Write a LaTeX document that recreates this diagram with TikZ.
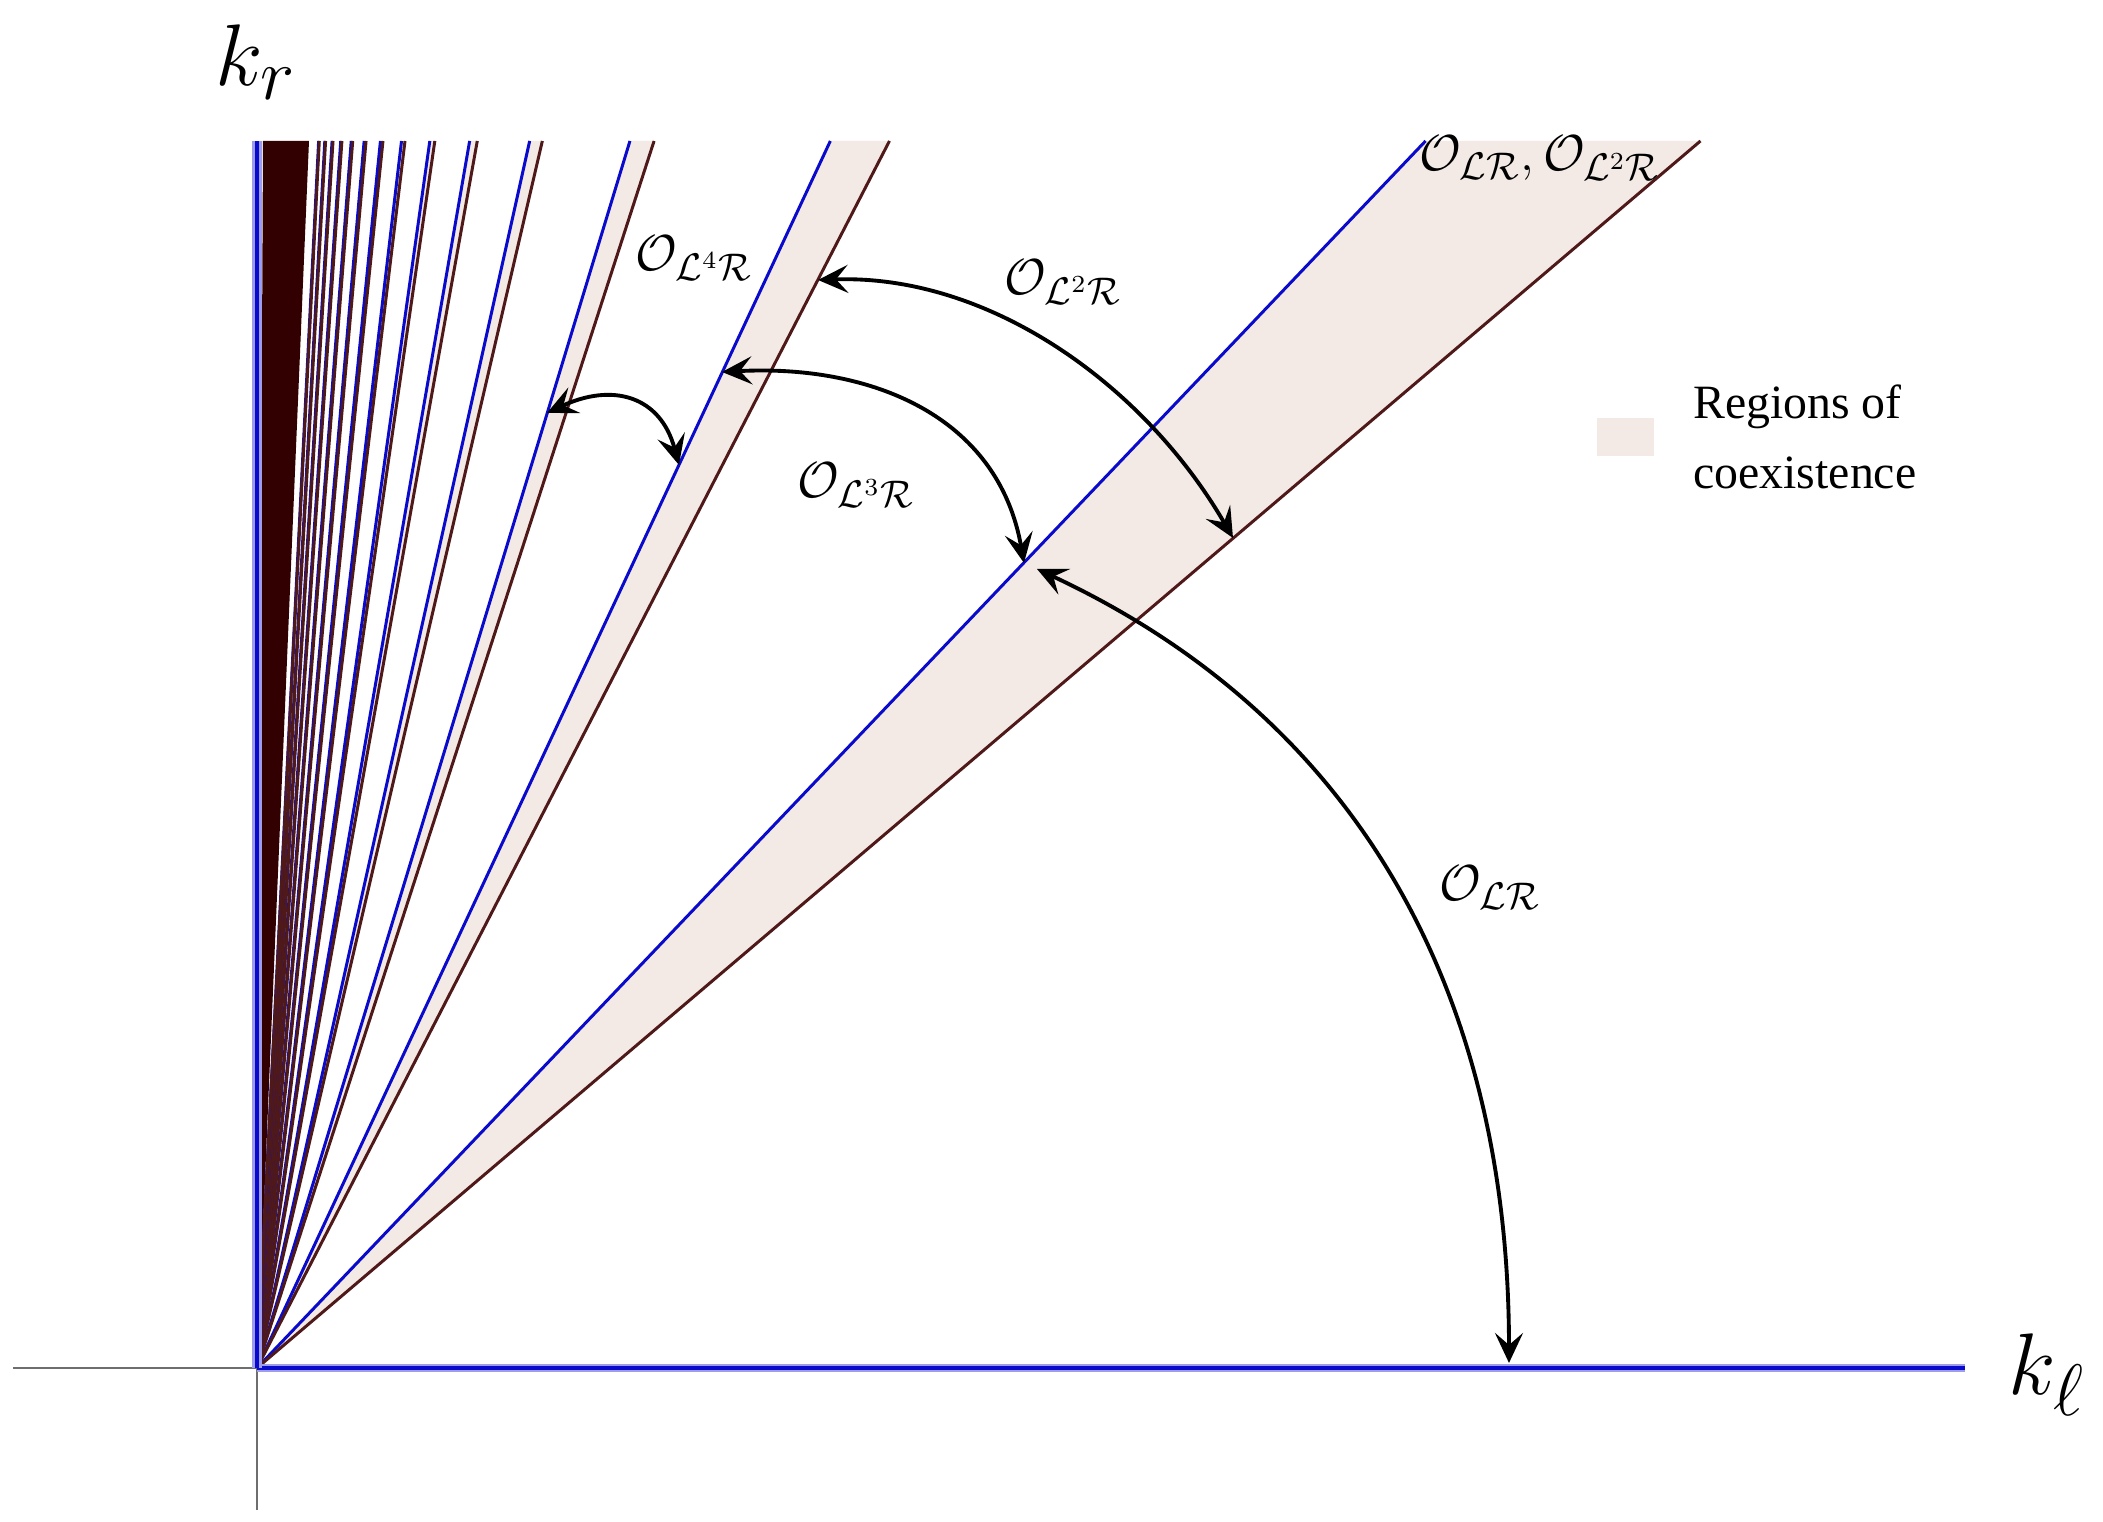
\documentclass[tikz,border=0pt]{standalone}
\usepackage{amsmath}
\usepackage{amssymb}
\usepackage{fontspec}
\setmainfont{Liberation Serif}
\usetikzlibrary{arrows.meta,positioning}
\definecolor{lineblue}{RGB}{10,10,205}
\definecolor{linebrown}{RGB}{80,25,25}
\definecolor{darkband}{RGB}{50,0,0}
\definecolor{coexist}{RGB}{243,234,229}
\definecolor{axisgray}{RGB}{110,110,110}

\begin{document}
\begin{tikzpicture}[>={Stealth[length=3mm,width=2.8mm,inset=1.2mm]},
    op/.style={font=\fontsize{15}{18}\selectfont},
    axlabel/.style={font=\fontsize{28}{32}\selectfont,anchor=base west,inner sep=0pt},
    oparrow/.style={<->,line width=1.1pt},
    ray/.style={line width=0.85pt}]
\useasboundingbox (-2.57,-1.54) rectangle (18.46,13.68);
\foreach \n in {1,...,14}{
    \pgfmathsetmacro{\sb}{\n+0.03*\n*\n+0.02}
    \pgfmathsetmacro{\sr}{\sb-0.2}
    \fill[coexist] (0,0) -- ({12.27/\sb},12.27) -- ({12.27/\sr},12.27) -- cycle;
}
\fill[darkband] (0,0) -- (0.06,12.27) -- (0.52,12.27) -- cycle;
\foreach \n in {1,...,14}{
    \pgfmathsetmacro{\sb}{\n+0.03*\n*\n+0.02}
    \pgfmathsetmacro{\sr}{\sb-0.2}
    \draw[ray,lineblue] (0,0) -- ({12.27/\sb},12.27);
    \draw[ray,linebrown] (0,0) -- ({12.27/\sr},12.27);
}
\draw[axisgray,line width=0.6pt] (-2.44,0) -- (17.08,0);
\draw[axisgray,line width=0.6pt] (0,-1.42) -- (0,12.27);
\draw[lineblue!40,line width=2.2pt] (0,0) -- (17.08,0);
\draw[lineblue,line width=0.9pt] (0,0) -- (17.08,0);
\draw[lineblue!40,line width=2.6pt] (0,0) -- (0,12.27);
\draw[lineblue,line width=1.3pt] (0,0) -- (0,12.27);
\node[axlabel] (kr) at (-0.42,12.82) {$k_r$};
\node[axlabel] (kl) at (17.51,-0.27) {$k_\ell$};

\coordinate (a4s) at (2.90,9.55);
\coordinate (a4e) at (4.22,9.03);
\coordinate (a3s) at (4.65,9.96);
\coordinate (a3e) at (7.67,8.05);
\coordinate (a2s) at (5.61,10.88);
\coordinate (a2e) at (9.76,8.30);
\coordinate (a1s) at (7.80,7.99);
\coordinate (a1e) at (12.52,0.05);
\draw[oparrow] (a4s) to[out=25,in=105,looseness=1.3] (a4e);
\draw[oparrow] (a3s) to[out=3,in=100,looseness=1.07] (a3e);
\draw[oparrow] (a2s) to[out=2,in=120,looseness=0.91] (a2e);
\draw[oparrow] (a1s) to[out=-25,in=90,looseness=1.0] (a1e);

\node[op] (l4) at (4.37,11.10) {$\mathcal{O}_{\mathcal{L}^4\mathcal{R}}$};
\node[op] (l3) at (5.99,8.83) {$\mathcal{O}_{\mathcal{L}^3\mathcal{R}}$};
\node[op] (l2) at (8.06,10.86) {$\mathcal{O}_{\mathcal{L}^2\mathcal{R}}$};
\node[op] (l1) at (12.33,4.80) {$\mathcal{O}_{\mathcal{L}\mathcal{R}}$};
\node[op,anchor=base west,inner sep=0pt] (ltop) at (11.62,11.97) {$\mathcal{O}_{\mathcal{L}\mathcal{R}},\mathcal{O}_{\mathcal{L}^2\mathcal{R}}$};

\node[fill=coexist,minimum width=0.57cm,minimum height=0.38cm,inner sep=0pt] (key) at (13.685,9.31) {};
\node[right=0.38cm of key,align=left,inner sep=0pt,font=\fontsize{13.6}{19.8}\selectfont] (keytext) {Regions of\\coexistence};
\end{tikzpicture}
\end{document}
